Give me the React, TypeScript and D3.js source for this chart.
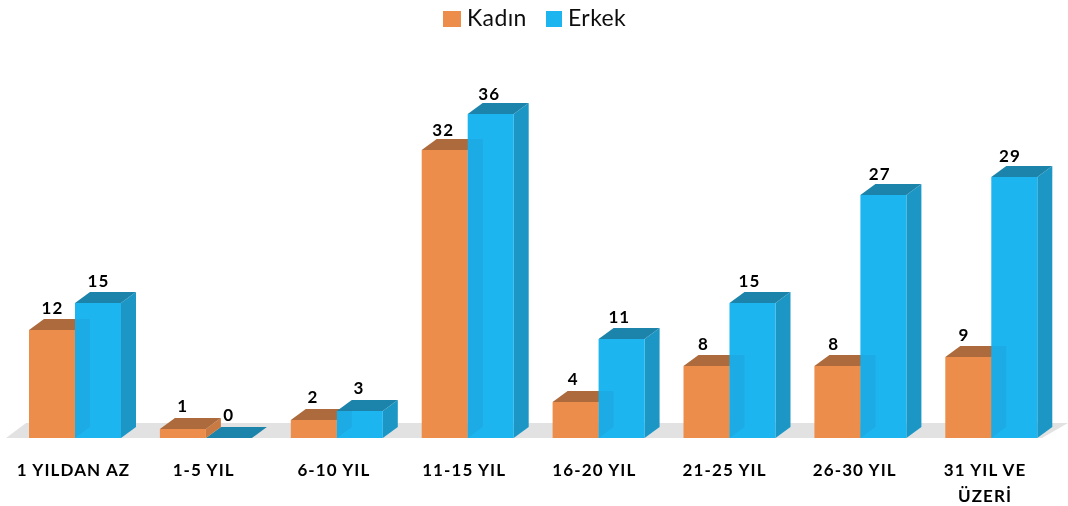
import React from "react";
import * as d3 from "d3";

const categories = ["1 YILDAN AZ", "1-5 YIL", "6-10 YIL", "11-15 YIL", "16-20 YIL", "21-25 YIL", "26-30 YIL", "31 YIL VE|ÜZERİ"];
const kadin = [12, 1, 2, 32, 4, 8, 8, 9];
const erkek = [15, 0, 3, 36, 11, 15, 27, 29];
const seriesNames = ["Kadın", "Erkek"];

const W = 1068, H = 506, baseY = 438, dx = 15, dy = 11;
const FONT = "Lato, 'Open Sans', sans-serif";
const y = d3.scaleLinear().domain([0, 36]).range([baseY, 114]);
const labelY = d3.scaleLinear().domain([0, 36]).range([421, 100]);
const x0 = d3.scaleBand<string>().domain(categories).range([29, 29 + 130.9 * 8]);
const labelX = d3.scalePoint<string>().domain(categories).range([73.5, 985]);
const barW = 46;

const palette = [
  { front: "#ED8D4B", top: "#AD6B3C", side: "#C97A42" },
  { front: "#1BB5F0", top: "#1C84AB", side: "#1F97C5" },
];
const line = d3.line();

function Bar({ x, v, c }: { x: number; v: number; c: typeof palette[number] }) {
  const t = y(v);
  const r = x + barW;
  return (
    <g>
      {v > 0 && <path d={line([[r, t], [r + dx, t - dy], [r + dx, baseY - dy], [r, baseY]])! + "Z"} fill={c.side} />}
      <path d={line([[x, t], [x + dx, t - dy], [r + dx, t - dy], [r, t]])! + "Z"} fill={c.top} />
      {v > 0 && <rect x={x} y={t} width={barW} height={baseY - t} fill={c.front} />}
    </g>
  );
}

export default function App() {
  return (
    <svg width={W} height={H} style={{ position: "absolute", left: 0, top: 0, background: "#fff" }} fontFamily={FONT}>
      <defs>
        <filter id="soft" x="-5%" y="-5%" width="110%" height="110%"><feGaussianBlur stdDeviation="0.5" /></filter>
        <filter id="softText" x="-5%" y="-5%" width="110%" height="110%"><feGaussianBlur stdDeviation="0.35" /></filter>
      </defs>
      <g filter="url(#soft)">
        <path d={line([[6, baseY], [26, baseY - 15], [W, baseY - 15], [1042, baseY]])! + "Z"} fill="#E2E2E2" />
        {categories.map((cat, i) => {
          const g = x0(cat)!;
          const t = y(kadin[i]);
          const r = g + barW;
          return (
            <g key={cat}>
              {erkek[i] === 0 && <Bar x={r} v={0} c={palette[1]} />}
              <Bar x={g} v={kadin[i]} c={palette[0]} />
              {erkek[i] > 0 && <Bar x={r} v={erkek[i]} c={palette[1]} />}
              {erkek[i] > 0 && (
                <path d={line([[r, t - dy], [r + dx, t - dy], [r + dx, baseY - dy], [r, baseY]])! + "Z"} fill="#2A6E96" fillOpacity={0.13} />
              )}
            </g>
          );
        })}
        <rect x={443} y={11} width={18} height={16} fill={palette[0].front} />
        <rect x={546} y={11} width={16} height={16} fill={palette[1].front} />
      </g>
      <g filter="url(#softText)">
        <g fontSize={17} fontWeight={700} fill="#000" textAnchor="middle" letterSpacing={1.1}>
          {categories.map((cat, i) => {
            const c = labelX(cat)!;
            return (
              <g key={cat}>
                <text x={c - 21} y={labelY(kadin[i])}>{kadin[i]}</text>
                <text x={c + 25} y={labelY(erkek[i])}>{erkek[i]}</text>
                {cat.split("|").map((s, k) => (
                  <text key={s} x={c} y={476 + k * 26}>{s}</text>
                ))}
              </g>
            );
          })}
        </g>
        <g fontSize={23} fill="#111" letterSpacing={0.4}>
          <text x={467} y={26}>{seriesNames[0]}</text>
          <text x={568} y={26}>{seriesNames[1]}</text>
        </g>
      </g>
    </svg>
  );
}
